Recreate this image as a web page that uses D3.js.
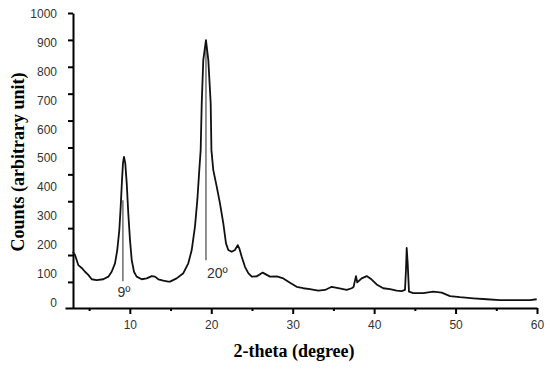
<!DOCTYPE html>
<html>
<head>
<meta charset="utf-8">
<script src="https://cdn.jsdelivr.net/npm/d3@7"></script>
<style>
  body { margin: 0; background: #fff; }
  svg { display: block; }
</style>
</head>
<body>
<svg id="chart"></svg>
<script>
// XRD pattern: 2-theta (degree) and counts (arbitrary unit)
const twoTheta = [
  3.0, 3.27, 3.67, 4.09, 4.5, 4.9, 5.32, 5.93, 6.74, 7.36, 7.77, 8.18, 8.46, 8.71, 8.88,
  9.04, 9.16, 9.28, 9.44, 9.62, 9.81, 10.02, 10.23, 10.51, 10.84, 11.46, 12.07, 12.69,
  13.09, 13.5, 14.11, 14.72, 14.93, 15.75, 16.57, 17.18, 17.6, 18.0, 18.29, 18.53, 18.7,
  18.83, 19.02, 19.35, 19.64, 19.93, 20.02, 20.25, 20.67, 21.07, 21.48, 21.81, 22.09,
  22.51, 22.91, 23.25, 23.44, 23.74, 24.14, 24.55, 24.97, 25.58, 26.32, 27.21, 28.04,
  28.85, 29.67, 30.49, 31.3, 32.12, 33.14, 33.97, 34.79, 35.6, 36.63, 37.24, 37.47,
  37.77, 37.93, 38.47, 39.09, 39.7, 40.31, 41.12, 41.95, 42.77, 43.38, 43.79, 43.91,
  44.0, 44.12, 44.28, 44.81, 46.04, 47.26, 48.3, 49.32, 50.54, 52.18, 53.82, 55.45,
  57.5, 59.14, 59.96
];
const counts = [
  177, 166, 131, 121, 108, 97, 82, 79, 82, 91, 108, 137, 183, 252, 333,
  425, 483, 505, 483, 413, 310, 218, 149, 108, 91, 82, 85, 93,
  91, 82, 77, 74, 74, 85, 103, 137, 183, 264, 356, 459, 528,
  690, 839, 908, 839, 690, 528, 459, 402, 344, 275, 206, 183,
  177, 183, 200, 189, 160, 125, 103, 91, 92, 105, 91, 92,
  85, 70, 56, 51, 48, 43, 45, 56, 51, 45, 51, 55,
  93, 71, 85, 93, 81, 64, 51, 48, 43, 41, 45, 114,
  190, 137, 39, 34, 34, 39, 36, 24, 20, 16, 13, 10,
  10, 10, 13
];

// axis ticks
const yTickValues = [0, 100, 200, 300, 400, 500, 600, 700, 800, 900, 1000];
const xTickValues = [10, 20, 30, 40, 50, 60];
const xMinorTicks = [5, 15, 25, 35, 45, 55];

// peak markers
const markAngles = [9.15, 19.35];
const markTop = [355, 890];
const markBottom = [75, 148];
const markLabels = ["9º", "20º"];

const width = 550, height = 369;
const svg = d3.select("#chart").attr("width", width).attr("height", height);

const x = d3.scaleLinear().domain([2.04, 60]).range([65, 537]);
// scale used for the data and the tick labels
const y = d3.scaleLinear().domain([0, 1000]).range([303, 13.5]);
// the tick marks of the original figure sit on a slightly different spacing
const yTick = d3.scaleLinear().domain([-97, 1000]).range([308, 13]);

const axisX0 = 73;

// x axis
const gx = svg.append("g")
  .attr("transform", `translate(0,${yTick(-97)})`)
  .call(d3.axisBottom(x).tickValues(xTickValues).tickSize(6).tickSizeOuter(0).tickPadding(6));
svg.append("g")
  .attr("transform", `translate(0,${yTick(-97)})`)
  .call(d3.axisBottom(x).tickValues(xMinorTicks).tickSize(3).tickSizeOuter(0).tickFormat(""))
  .select(".domain").remove();

// y axis: marks only, labels drawn below
const gy = svg.append("g")
  .attr("transform", `translate(${axisX0},0)`)
  .call(d3.axisLeft(yTick).tickValues(yTickValues).tickSize(5).tickSizeOuter(0).tickFormat(""));

svg.selectAll(".domain").attr("stroke", "#000").attr("stroke-width", 2);
svg.selectAll(".tick line").attr("stroke", "#000").attr("stroke-width", 2);
gx.selectAll(".tick text")
  .attr("font-family", "Liberation Sans, Arial, sans-serif")
  .attr("font-size", 12)
  .attr("fill", "#333");

svg.append("g")
  .selectAll("text")
  .data(yTickValues)
  .join("text")
  .attr("x", 57)
  .attr("y", d => y(d))
  .attr("dy", "0.35em")
  .attr("text-anchor", "end")
  .attr("font-family", "Liberation Sans, Arial, sans-serif")
  .attr("font-size", 12)
  .attr("fill", "#333")
  .text(d => d);

// peak marker lines
svg.append("g")
  .selectAll("line")
  .data(markAngles)
  .join("line")
  .attr("x1", d => x(d))
  .attr("x2", d => x(d))
  .attr("y1", (d, i) => y(markTop[i]))
  .attr("y2", (d, i) => y(markBottom[i]))
  .attr("stroke", "#555")
  .attr("stroke-width", 1.3);

// pattern
const line = d3.line()
  .x((d, i) => x(twoTheta[i]))
  .y(d => y(d));

svg.append("path")
  .datum(counts)
  .attr("fill", "none")
  .attr("stroke", "#111")
  .attr("stroke-width", 1.8)
  .attr("stroke-linejoin", "round")
  .attr("d", line);

// marker labels
svg.append("text")
  .attr("x", x(markAngles[0]) + 1)
  .attr("y", y(markBottom[0]) + 16)
  .attr("text-anchor", "middle")
  .attr("font-family", "Liberation Sans, Arial, sans-serif")
  .attr("font-size", 14)
  .attr("fill", "#333")
  .text(markLabels[0]);

svg.append("text")
  .attr("x", x(markAngles[1]) + 1)
  .attr("y", y(markBottom[1]) + 18)
  .attr("text-anchor", "start")
  .attr("font-family", "Liberation Sans, Arial, sans-serif")
  .attr("font-size", 14)
  .attr("fill", "#333")
  .text(markLabels[1]);

// axis titles
svg.append("text")
  .attr("x", 294)
  .attr("y", 357)
  .attr("text-anchor", "middle")
  .attr("font-family", "Liberation Serif, Times New Roman, serif")
  .attr("font-weight", "bold")
  .attr("font-size", 18)
  .text("2-theta (degree)");

svg.append("text")
  .attr("transform", "translate(24,162) rotate(-90)")
  .attr("text-anchor", "middle")
  .attr("font-family", "Liberation Serif, Times New Roman, serif")
  .attr("font-weight", "bold")
  .attr("font-size", 18)
  .text("Counts (arbitrary unit)");
</script>
</body>
</html>
